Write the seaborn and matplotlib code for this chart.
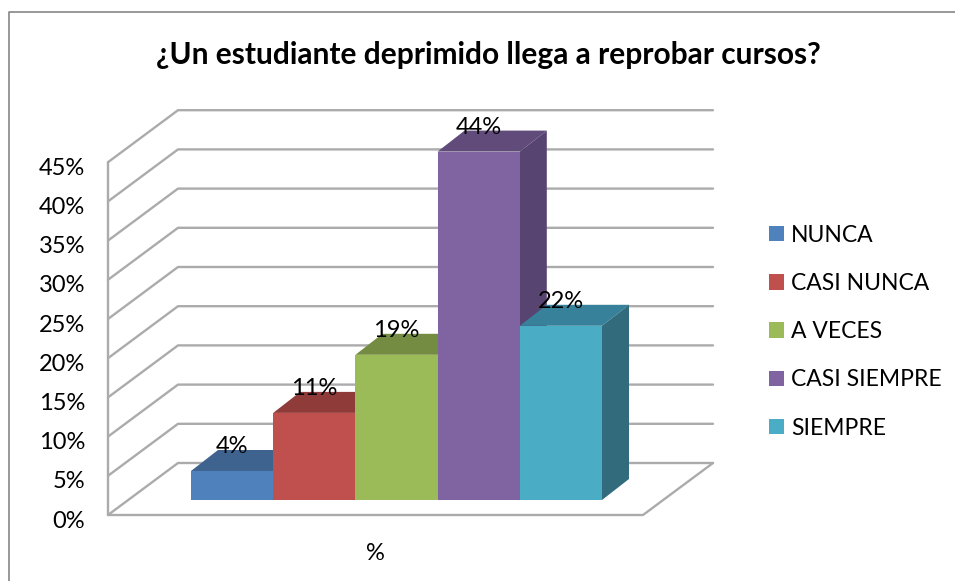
import matplotlib
matplotlib.use("Agg")
import matplotlib.pyplot as plt
from matplotlib.lines import Line2D
from matplotlib.patches import Polygon
import pandas as pd
import seaborn as sns

# Chart data
categories = ["NUNCA", "CASI NUNCA", "A VECES", "CASI SIEMPRE", "SIEMPRE"]
values = [3.70, 11.11, 18.52, 44.44, 22.22]
tick_values = [0, 5, 10, 15, 20, 25, 30, 35, 40, 45]
title = "¿Un estudiante deprimido llega a reprobar cursos?"
x_label = "%"

# Colours, front / top / side of each bar
front_colors = ["#4F81BD", "#C0504D", "#9BBB59", "#8064A2", "#4BACC6"]
top_colors = ["#3E638F", "#8F3B39", "#748C42", "#604B7A", "#38819A"]
side_colors = ["#34547A", "#7A3230", "#627738", "#574470", "#316B7C"]
grid_color = "#ABABAB"

W, H = 955, 581
BAR_PX = 82.2      # width of one category, pixels
PCT_PX = 7.84      # height of 1%, pixels
BAR_LEFT = 191     # left edge of the first bar
BAR_BASE = 500     # bottom edge of the bars

sns.set_theme(style="white")
plt.rcParams["font.family"] = ["Lato", "DejaVu Sans"]

fig = plt.figure(figsize=(W / 100, H / 100), dpi=100, facecolor="white")
ax = fig.add_axes([0, 0, 1, 1])

df = pd.DataFrame({"categoria": categories, "valor": values})
sns.barplot(data=df, x="categoria", y="valor", hue="categoria", palette=front_colors,
            width=1, dodge=False, saturation=1, legend=True, zorder=10, linewidth=0, ax=ax)


# Pixel offsets into data units, y pixels go downwards
def dx(px):
    return px / BAR_PX


def dy(px):
    return px / PCT_PX


ax.set_xlim(-0.5 - dx(BAR_LEFT), -0.5 + dx(W - BAR_LEFT))
ax.set_ylim(-dy(H - BAR_BASE), dy(BAR_BASE))
ax.set_axis_off()

# Walls and floor of the 3d box
wall_x = -0.5 + dx(108 - BAR_LEFT)
wall_y = -dy(515 - BAR_BASE)
depth_x = dx(70)
depth_y = dy(52)
back_right = -0.5 + dx(713 - BAR_LEFT)
front_right = -0.5 + dx(643 - BAR_LEFT)
line_style = dict(color=grid_color, lw=1.7, solid_capstyle="round", zorder=1)

for t in tick_values:
    y = wall_y + t
    ax.plot([wall_x, wall_x + depth_x, back_right], [y, y + depth_y, y + depth_y], **line_style)
    ax.text(wall_x - dx(23), y - dy(6), f"{t}%", ha="right", va="center", fontsize=17, color="black")

ax.plot([wall_x, wall_x], [wall_y, wall_y + tick_values[-1]], **line_style)
ax.plot([wall_x, front_right, front_right + depth_x],
        [wall_y, wall_y, wall_y + depth_y], **line_style)

# Top and side faces of the bars, the depth is smaller than the box
bar_dx = dx(27)
bar_dy = dy(21)
for i, v in enumerate(values):
    left, right = i - 0.5, i + 0.5
    ax.add_patch(Polygon([(left, v), (right, v), (right + bar_dx, v + bar_dy), (left + bar_dx, v + bar_dy)],
                         closed=True, facecolor=top_colors[i], edgecolor="none", zorder=3 + i))
    ax.add_patch(Polygon([(right, 0), (right + bar_dx, bar_dy), (right + bar_dx, v + bar_dy), (right, v)],
                         closed=True, facecolor=side_colors[i], edgecolor="none", zorder=3 + i))
    ax.text(i, v + dy(24), f"{v:.0f}%", ha="center", va="center", fontsize=17, color="black", zorder=20)

ax.text(-0.5 + dx(375 - BAR_LEFT), -dy(553 - BAR_BASE), x_label, ha="center", va="center",
        fontsize=17, color="black")

leg = ax.legend(loc="upper left", bbox_to_anchor=(762 / W, 1 - 218 / H), bbox_transform=fig.transFigure,
                frameon=False, fontsize=16.5, handlelength=0.65, handleheight=0.65,
                handletextpad=0.33, labelspacing=1.185, borderpad=0.3, borderaxespad=0)
for text in leg.get_texts():
    text.set_color("black")

fig.text(488 / W, 1 - 55 / H, title, ha="center", va="center", fontsize=21.5, fontweight="bold", color="black")

# Chart border, only top and left fall inside the picture
fig.add_artist(Line2D([9 / W, 9 / W, 1], [0, 1 - 12 / H, 1 - 12 / H], transform=fig.transFigure,
                      color="#868686", lw=1.2))

fig.savefig("out.png", dpi=100, facecolor="white")
